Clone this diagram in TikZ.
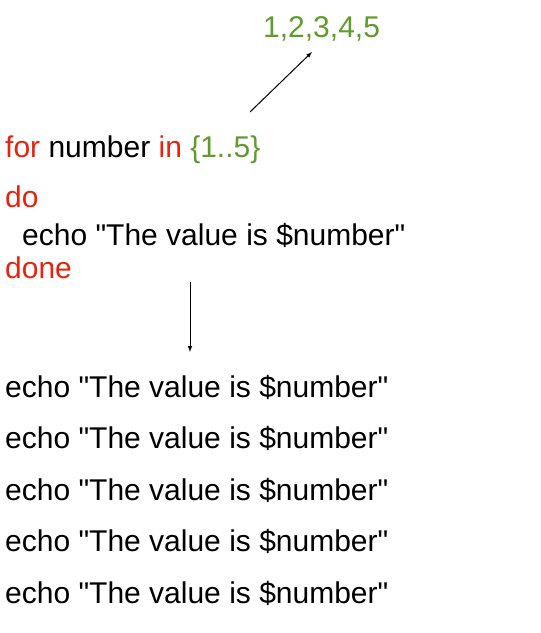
\documentclass[tikz,border=0pt]{standalone}
\usepackage{fontspec}
\setmainfont{Liberation Sans}[Ligatures=TeXOff]
\definecolor{keyword}{RGB}{230,36,14}
\definecolor{range}{RGB}{95,155,45}
\begin{document}
\begin{tikzpicture}
	[x=1pt,y=-1pt,
	every node/.style={anchor=base west,inner sep=0pt,font=\fontsize{30}{36}\selectfont}]
	\useasboundingbox (0,0) rectangle (541,633);
	\node[text=range] (vals) at (263,37) {1,2,3,4,5};
	\node (for) at (5,157) {\textcolor{keyword}{for} number \textcolor{keyword}{in} \textcolor{range}{\{1..5\}}};
	\node[text=keyword] (do) at (5,207) {do};
	\node (body) at (22,245) {echo "The value is \$number"};
	\node[text=keyword] (done) at (5,278) {done};
	\foreach \i in {0,...,4}
		\node (out\i) at (5,397+51.5*\i) {echo "The value is \$number"};
	\coordinate (forTail) at (250,112);
	\coordinate (valsTip) at (312,52);
	\coordinate (doneTail) at (190,282);
	\coordinate (outTip) at (190,352);
	\draw[-latex,line width=1pt] (forTail) -- (valsTip);
	\draw[-latex,line width=1pt] (doneTail) -- (outTip);
\end{tikzpicture}
\end{document}
